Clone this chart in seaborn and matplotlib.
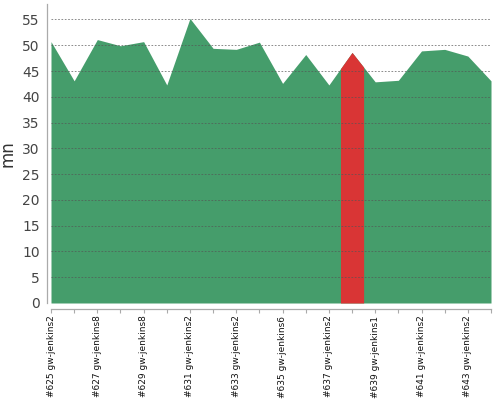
import numpy as np
import pandas as pd
import matplotlib
matplotlib.use("Agg")
import matplotlib.pyplot as plt
import seaborn as sns

builds = ["#625 gw-jenkins2", "#626 gw-jenkins8", "#627 gw-jenkins8", "#628 gw-jenkins8",
          "#629 gw-jenkins8", "#630 gw-jenkins2", "#631 gw-jenkins2", "#632 gw-jenkins2",
          "#633 gw-jenkins2", "#634 gw-jenkins6", "#635 gw-jenkins6", "#636 gw-jenkins2",
          "#637 gw-jenkins2", "#638 gw-jenkins2", "#639 gw-jenkins1", "#640 gw-jenkins1",
          "#641 gw-jenkins2", "#642 gw-jenkins2", "#643 gw-jenkins2", "#644 gw-jenkins2"]
minutes = [50.7, 43.1, 51.1, 49.9, 50.7, 42.3, 55.2, 49.4, 49.2, 50.6,
           42.6, 48.2, 42.3, 48.6, 42.9, 43.2, 48.9, 49.2, 47.9, 43.1]
status = ["ok"] * 13 + ["fail"] + ["ok"] * 6

colors = {"ok": "#459d6b", "fail": "#d93535"}

sns.set_style("white")
plt.rcParams['font.family'] = ['DejaVu Sans']

df = pd.DataFrame({"idx": np.arange(len(builds)), "mn": minutes, "status": status})

fig = plt.figure(figsize=(5, 4), dpi=100)
ax = fig.add_axes([0.102, 0.2425, 0.880, 0.7475])

sns.lineplot(data=df, x="idx", y="mn", ax=ax, lw=0, color=colors["ok"], legend=False)

n = len(df)
xs = df["idx"].to_numpy(dtype=float)
ys = df["mn"].to_numpy(dtype=float)
ax.fill_between(xs, 0, ys, color=colors["ok"], lw=0, zorder=1)
for i in range(n):
    st = df["status"][i]
    if st == "ok":
        continue
    lo = max(0.0, i - 0.5)
    hi = min(n - 1.0, i + 0.5)
    seg_x = np.array([lo] + [x for x in xs if lo < x < hi] + [hi])
    seg_y = np.interp(seg_x, xs, ys)
    ax.fill_between(seg_x, 0, seg_y, color=colors[st], lw=0, zorder=2)

ax.set_xlim(0, n - 1)
ax.set_ylim(0, 58)

ax.tick_params(axis="y", labelsize=10, labelcolor="#444444", length=2, color="#aaaaaa", pad=3)
ax.tick_params(axis="x", length=3, color="#aaaaaa", pad=2, bottom=True,
               labelsize=6.5, labelcolor="#111111", labelrotation=90)

ax.set_yticks(np.arange(0, 56, 5))
ax.set_xticks(xs)
ax.set_xticklabels([b if i % 2 == 0 else "" for i, b in enumerate(builds)],
                   rotation=90, ha="center", va="top")

ax.set_axisbelow(False)
ax.yaxis.grid(True, color="#555555", linestyle=(0, (2, 2)), linewidth=0.6, alpha=0.8)
ax.xaxis.grid(False)

for s in ["top", "right"]:
    ax.spines[s].set_visible(False)
ax.spines["left"].set_position(("outward", 3))
ax.spines["bottom"].set_position(("outward", 4))
ax.spines["left"].set_color("#aaaaaa")
ax.spines["bottom"].set_color("#aaaaaa")
ax.spines["left"].set_linewidth(0.9)
ax.spines["bottom"].set_linewidth(0.9)

ax.set_xlabel("")
ax.set_ylabel("mn", fontsize=12, color="#333333", labelpad=4)

fig.savefig("out.png", dpi=100)
